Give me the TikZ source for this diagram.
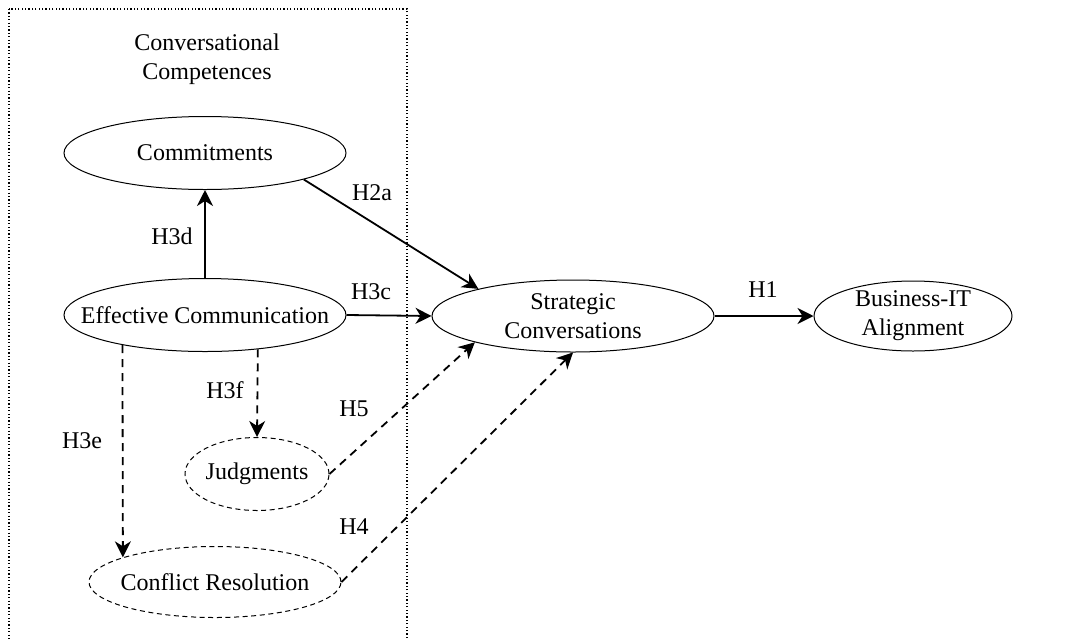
\documentclass[tikz,border=0pt]{standalone}
\usepackage{fontspec}
\setmainfont{Liberation Serif}
\usetikzlibrary{shapes,arrows.meta}
\tikzstyle{construct}=[draw,ellipse,inner xsep=-20pt,inner ysep=-3pt,line width=0.5pt,align=center,font=\fontsize{12}{14.5}\selectfont]
\tikzstyle{newconstruct}=[construct,dash pattern=on 2.5pt off 1.8pt]
\tikzstyle{hyp}=[line width=0.9pt,-{Stealth[length=8pt,width=8pt,inset=2.5pt]}]
\tikzstyle{newhyp}=[hyp,dash pattern=on 4pt off 3pt]
\tikzstyle{hlabel}=[font=\fontsize{12}{14.5}\selectfont]

\begin{document}
\begin{tikzpicture}[x=0.5pt,y=-0.5pt]
\useasboundingbox (0,0) rectangle (1092,638);
% competences box
\draw[line width=0.6pt,dash pattern=on 0.6pt off 1.1pt] (9,9) rectangle (407,660);
\node [hlabel,align=center] (title) at (207,59) {Conversational\\Competences};

% constructs
\node [construct,minimum width=141pt,minimum height=36.5pt] (comm) at (205,153) {Commitments};
\node [construct,minimum width=141pt,minimum height=36.5pt] (effcomm) at (205,315) {Effective Communication};
\node [newconstruct,minimum width=72pt,minimum height=36.5pt] (judg) at (257,474) {Judgments};
\node [newconstruct,minimum width=126pt,minimum height=35.5pt] (confl) at (215,582) {Conflict Resolution};
\node [construct,minimum width=141pt,minimum height=36pt] (strat) at (573,316) {Strategic\\Conversations};
\node [construct,minimum width=99pt,minimum height=35pt] (bita) at (913,316) {Business-IT\\Alignment};

% hypotheses
\draw [hyp] (effcomm.north) -- (comm.south);
\draw [hyp] (comm.-15) -- (strat.164);
\draw [hyp] (effcomm.east) -- (strat.west);
\draw [hyp] (strat.east) -- (bita.west);
\draw [newhyp] (effcomm.-33) -- (judg.north);
\draw [newhyp] (effcomm.200) -- (confl.165);
\draw [newhyp] (judg.east) -- (strat.195);
\draw [newhyp] (confl.east) -- (strat.south);

\node [hlabel] (h3d) at (172,236) {H3d};
\node [hlabel] (h2a) at (372,193) {H2a};
\node [hlabel] (h3c) at (371,292) {H3c};
\node [hlabel] (h1) at (763,290) {H1};
\node [hlabel] (h3f) at (225,390) {H3f};
\node [hlabel] (h3e) at (82,441) {H3e};
\node [hlabel] (h5) at (354,409) {H5};
\node [hlabel] (h4) at (354,527) {H4};
\end{tikzpicture}
\end{document}
